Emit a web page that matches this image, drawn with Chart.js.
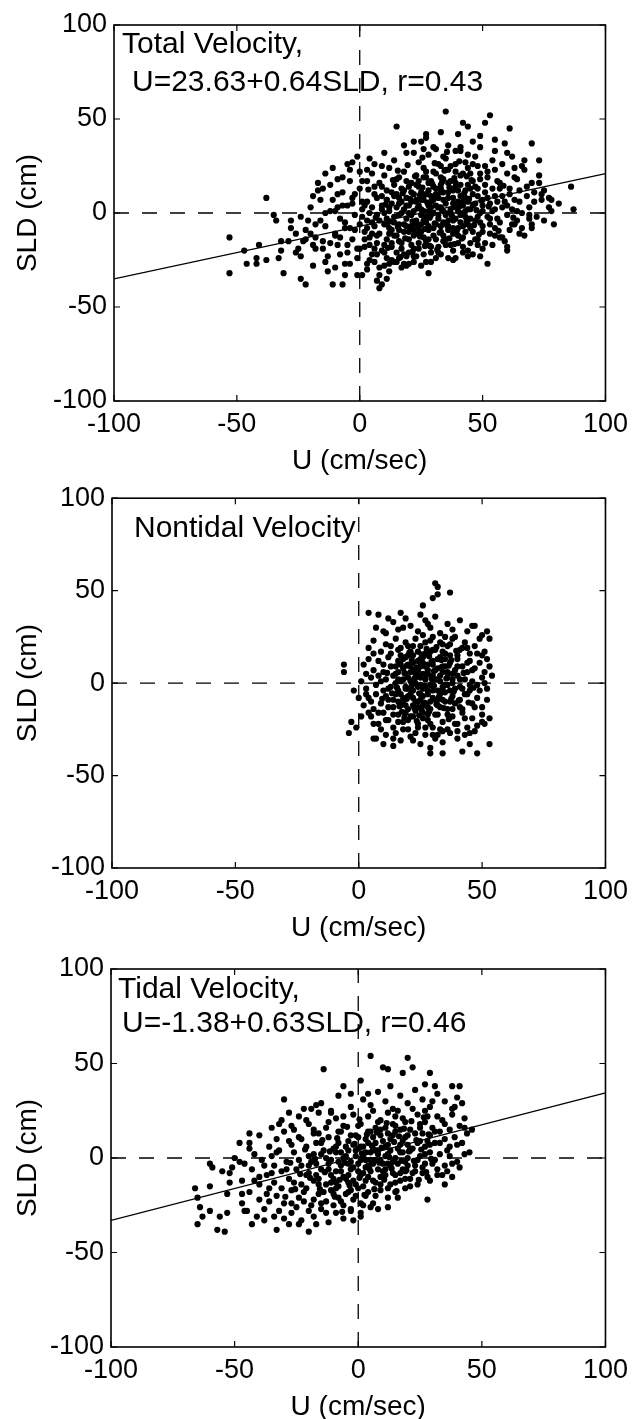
<!DOCTYPE html>
<html>
<head>
<meta charset="utf-8">
<script src="https://cdn.jsdelivr.net/npm/chart.js@4.4.1/dist/chart.umd.min.js"></script>
<style>
html, body { margin: 0; padding: 0; background: #fff; }
#wrap { position: relative; width: 635px; height: 1419px; }
canvas { position: absolute; left: 0; }
</style>
</head>
<body>
<div id="wrap">
  <canvas id="c1" width="635" height="475" style="top:0px"></canvas>
  <canvas id="c2" width="635" height="470" style="top:475px"></canvas>
  <canvas id="c3" width="635" height="474" style="top:945px"></canvas>
</div>
<script>
// axis setup
const axisTicks = [-100, -50, 0, 50, 100];
const xTitle = "U (cm/sec)";
const yTitle = "SLD (cm)";

// dashed zero lines
const zeroH = [[-100, 0], [100, 0]];
const zeroV = [[0, -100], [0, 100]];

// regression lines (U range and SLD at each end)
const fitU = [-100, 100];
const totalFitSLD = [-35, 21];
const tidalFitSLD = [-33, 34.5];

const totalLabel = ["Total Velocity,", "U=23.63+0.64SLD, r=0.43"];
const nontidalLabel = ["Nontidal Velocity"];
const tidalLabel = ["Tidal Velocity,", "U=-1.38+0.63SLD, r=0.46"];

// [U, SLD] pairs
const totalPts = [
  [-53,-13],[-53,-32],[-38,8],[-47,-20],[-46,-27],[-42,-27],[-42,-24],[-41,-17],[-38,-25],[-35,-1],
  [-34,-4],[-33,-24],[-32,-15],[-32,-20],[-31,-32],[-28,-4],[-28,-8],[-26,-11],[-25,-19],[-24,-23],
  [-24,-35],[-23,-15],[-22,-38],[-21,-4],[-20,-11],[-19,-28],[-19,-17],[-17,12],[-16,7],[-15,-15],
  [-15,-19],[-14,0],[-13,-31],[-11,24],[-11,-38],[-10,1],[-10,-11],[-9,10],[-8,-22],[-7,-38],
  [-7,19],[-6,-27],[-5,26],[-4,-8],[-3,5],[-1,30],[-1,-33],[1,-33],[1,-2],[3,17],
  [4,-17],[5,-11],[6,26],[7,-36],[8,-40],[9,-38],[10,32],[11,7],[13,-25],[15,46],
  [16,19],[18,-27],[20,-27],[22,32],[23,7],[25,38],[27,42],[27,-15],[28,-32],[30,35],
  [31,-24],[34,30],[35,54],[36,-24],[38,-25],[40,42],[41,35],[42,48],[44,46],[44,-23],
  [49,35],[49,-23],[51,48],[53,52],[52,-27],[55,39],[57,-13],[59,37],[60,32],[61,45],
  [60,-18],[63,19],[64,1],[65,-11],[67,28],[69,-1],[70,37],[70,-6],[73,28],[73,16],
  [74,7],[75,12],[77,3],[78,1],[78,7],[79,-6],[81,5],[86,14],[87,2],[60,-20],
  [22,38],[27,40],[31,34],[36,36],[41,33],[46,38],[49,41],[55,33],[18,36],[33,43],
  [-3,27],[4,29],[9,25],[14,28],[19,32],[24,27],[28,31],[32,26],[35,29],[39,33],
  [43,27],[47,30],[51,25],[54,28],[58,26],[62,30],[66,25],[44,31],[37,25],[26,34],
  [-14,21],[-9,18],[-4,23],[1,17],[5,21],[8,16],[12,24],[15,18],[18,22],[21,16],
  [23,20],[26,24],[29,17],[31,21],[34,18],[36,23],[39,16],[41,20],[44,24],[46,17],
  [49,21],[52,19],[55,23],[57,16],[60,21],[64,18],[67,23],[70,16],[73,20],[48,25],
  [33,15],[27,19],[10,20],[-17,16],
  [-19,9],[-15,13],[-11,7],[-7,11],[-3,8],[0,13],[3,6],[6,10],[9,14],[11,7],
  [13,11],[16,5],[17,13],[19,8],[21,11],[23,6],[24,14],[26,9],[28,12],[29,6],
  [31,10],[33,13],[34,7],[36,11],[38,5],[39,14],[41,9],[43,12],[44,6],[46,10],
  [48,13],[50,7],[51,11],[53,5],[55,9],[57,13],[59,6],[61,10],[63,7],[65,12],
  [68,9],[71,6],[74,10],[77,8],[20,14],[32,8],[42,6],[14,9],[37,13],[25,11],
  [-24,-2],[-20,3],[-16,-4],[-12,1],[-8,-3],[-5,4],[-2,-1],[1,2],[3,-4],[5,3],
  [7,-1],[9,4],[11,-3],[12,1],[14,-5],[15,3],[17,0],[19,-3],[20,4],[22,1],
  [23,-4],[25,2],[27,-2],[28,4],[30,0],[32,-3],[33,3],[35,-1],[37,2],[38,-4],
  [40,1],[42,4],[43,-2],[45,2],[47,-4],[49,0],[50,4],[52,-2],[54,1],[56,-3],
  [58,3],[60,-1],[62,2],[64,-4],[66,0],[69,3],[72,-2],[75,-4],[18,2],[26,-4],
  [34,1],[41,-1],[10,0],[29,3],
  [-22,-9],[-18,-13],[-14,-7],[-10,-12],[-6,-8],[-3,-14],[0,-6],[2,-10],[4,-13],[6,-7],
  [8,-11],[10,-6],[11,-14],[13,-9],[15,-12],[16,-6],[18,-10],[20,-14],[21,-7],[23,-11],
  [25,-6],[26,-13],[28,-9],[30,-12],[31,-6],[33,-10],[35,-14],[36,-7],[38,-11],[40,-8],
  [42,-13],[44,-6],[46,-10],[48,-14],[50,-7],[53,-11],[55,-8],[58,-13],[61,-9],[63,-6],
  [67,-12],[70,-8],[12,-11],[24,-8],[34,-12],[19,-7],
  [-18,-19],[-13,-23],[-9,-17],[-5,-21],[-1,-24],[2,-18],[5,-22],[7,-16],[9,-20],[11,-24],
  [13,-18],[15,-21],[17,-16],[19,-23],[22,-19],[24,-16],[26,-22],[29,-18],[32,-21],[35,-17],
  [38,-20],[42,-18],[45,-16],[50,-19],[54,-17],[10,-17],[20,-21],[4,-25],
  [-4,-27],[3,-30],[6,-26],[8,-33],[10,-28],[12,-31],[14,-26],[17,-29],[22,-26],[25,-28],
  [11,-35],
  [12,3],[14,-2],[16,8],[18,-6],[20,0],[21,6],[22,-9],[24,4],[25,-1],[26,7],
  [27,-5],[28,1],[29,9],[30,-8],[31,4],[32,-1],[33,11],[34,-5],[35,5],[36,-9],
  [37,0],[38,8],[39,-3],[40,12],[41,4],[42,-7],[43,1],[44,15],[45,-3],[36,16],
  [30,14],[24,17],[18,12],[14,15],[40,-12],[28,-14],[22,-12],[16,-9],[11,-6],[9,2],
  [7,8],[13,-16],[17,-19],[21,-17],[47,5],[49,-5],[51,15],[53,-6],[56,6],[27,22],
  [33,25],[39,22],[45,21],[15,-26],[6,-19],[3,-8],[1,6],[-2,10],[-6,-5],[-9,3],
  [2,-14],[4,0],[6,14],[8,-4],[9,9],[10,-21],[11,12],[12,-8],[13,5],[14,-12],
  [15,10],[16,-1],[16,-15],[17,6],[18,-22],[19,17],[19,4],[20,-10],[21,-1],[22,10],
  [22,-23],[23,15],[23,-6],[24,-19],[25,7],[25,-10],[26,1],[26,19],[27,-17],[27,10],
  [28,-7],[28,16],[29,-1],[29,-21],[30,7],[30,22],[31,-14],[31,13],[32,3],[32,-18],
  [33,-7],[33,19],[34,11],[34,-15],[35,0],[35,23],[36,-4],[36,8],[37,-17],[37,17],
  [38,12],[38,-8],[39,3],[39,26],[40,-16],[40,6],[41,-5],[41,15],[42,21],[42,0],
  [43,-10],[43,8],[44,-20],[44,2],[45,13],[45,-8],[46,4],[46,26],[47,-14],[47,14],
  [48,-2],[48,9],[49,18],[50,-10],[50,1],[51,-16],[52,8],[52,22],[53,-3],[54,13],
  [55,-12],[55,2],[56,17],[57,-5],[58,9],[59,-15],[60,4],[61,13],[62,-6],[63,24],
  [65,6],[66,-8],[68,14],[69,-3],[71,11],[-12,-16],[-8,-13],[-5,-17],[-2,-9],[0,-19],
  [2,4],[3,-27],[5,-5],[7,-22],[8,-29],[12,-27],[16,-24],[19,-28],[23,-23],[27,-26],
  [-14,-26],[-10,-29],[-6,-33],[-18,-6],[-22,-14],[-26,-21],[-29,-15],[-12,15],[-7,4],[-4,17],
  [3,23],[7,-12],[0,22],[-1,-19],[29,-26],[33,-22],[39,-24],[42,-21],[46,-22],[48,-17],
  [10.5,4.5],[12.5,-4.5],[13.5,17.5],[15.5,-7.5],[17.5,10.5],[18.5,-13.5],[20.5,7.5],[21.5,-4.5],[22.5,19.5],[23.5,2.5],
  [24.5,-12.5],[25.5,13.5],[26.5,-8.5],[27.5,5.5],[28.5,-2.5],[29.5,15.5],[30.5,-5.5],[31.5,8.5],[32.5,-10.5],[33.5,1.5],
  [34.5,22.5],[35.5,-6.5],[36.5,13.5],[37.5,-1.5],[38.5,18.5],[39.5,-9.5],[40.5,3.5],[41.5,-13.5],[42.5,10.5],[43.5,-4.5],
  [44.5,7.5],[45.5,17.5],[46.5,-6.5],[47.5,1.5],[48.5,-11.5],[49.5,6.5],[30.5,26.5],[25.5,29.5],[35.5,32.5],[40.5,27.5],
  [19.5,25.5],[15.5,22.5],[11.5,-18.5],[16.5,-23.5],[21.5,-20.5],[26.5,-17.5],[31.5,-19.5],[36.5,-13.5],[52.5,3.5],[56.5,-9.5],
  [58.5,14.5],[62.5,-2.5],[20.5,-8.5],[24.5,9.5],[28.5,-17.5],[33.5,16.5],[38.5,-16.5],[43.5,19.5],[6.5,-2.5],[3.5,12.5]
];

const nontidalPts = [
  [-6,10],[-6,6],[-4,-27],[-3,-21],[-1,-24],[-2,-4],[0,-8],[4,38],[8,37],[6,-30],
  [10,-33],[14,-34],[17,38],[26,42],[30,46],[31,54],[32,52],[32,48],[37,49],[29,-38],
  [34,-38],[42,-37],[45,-33],[48,-38],[53,-33],[53,-19],[54,4],[52,28],[53,24],[50,15],
  [46,31],[51,-22],
  [7,30],[11,27],[14,33],[16,29],[19,35],[21,31],[24,28],[27,34],[29,30],[31,36],
  [33,27],[36,32],[38,29],[41,34],[44,28],[47,31],[50,26],[12,35],[25,37],[35,25],
  [4,19],[6,23],[9,17],[11,21],[13,16],[15,24],[17,19],[19,22],[21,17],[23,24],
  [25,20],[27,16],[29,23],[31,18],[33,22],[35,16],[37,21],[39,25],[41,18],[43,22],
  [45,16],[47,20],[49,24],[51,17],[20,15],[30,25],[40,15],
  [2,10],[4,13],[6,7],[8,12],[10,6],[12,14],[13,9],[15,5],[16,12],[18,8],
  [19,14],[21,6],[22,11],[24,7],[25,13],[27,9],[28,5],[30,12],[31,7],[33,14],
  [34,9],[36,5],[37,11],[39,7],[40,13],[42,9],[44,6],[45,12],[47,8],[49,11],
  [51,6],[53,9],[17,10],[26,11],[35,13],[23,5],
  [1,1],[3,-3],[5,3],[7,-1],[8,4],[10,-4],[11,2],[13,-2],[14,4],[16,-4],
  [17,1],[19,-2],[20,3],[22,-4],[23,0],[24,4],[26,-3],[27,2],[29,-1],[30,4],
  [32,-4],[33,1],[34,-2],[36,3],[37,-4],[38,0],[40,4],[41,-2],[43,2],[45,-4],
  [46,1],[48,-1],[50,3],[52,-3],[15,0],[25,-1],[31,2],[21,1],[35,-1],[28,-4],
  [2,-12],[4,-8],[6,-14],[7,-6],[9,-11],[11,-7],[12,-13],[14,-9],[15,-6],[17,-12],
  [18,-8],[20,-14],[21,-6],[23,-10],[24,-13],[26,-7],[27,-11],[29,-14],[30,-8],[32,-12],
  [33,-6],[35,-10],[36,-14],[38,-7],[39,-11],[41,-9],[42,-14],[44,-6],[46,-11],[48,-8],
  [50,-13],[52,-9],[16,-10],[25,-9],[34,-9],[22,-12],
  [5,-18],[8,-22],[10,-16],[12,-20],[14,-24],[16,-17],[18,-21],[20,-25],[22,-18],[24,-22],
  [26,-16],[28,-20],[30,-24],[32,-17],[34,-21],[36,-25],[38,-18],[40,-22],[42,-16],[44,-24],
  [46,-19],[48,-23],[50,-17],[19,-16],[27,-24],
  [7,-30],[11,-28],[15,-27],[17,-31],[21,-29],[25,-33],[27,-28],[29,-35],[31,-30],[34,-32],
  [37,-27],[40,-30],[43,-28],[47,-26],[23,-27],
  [18,2],[20,-7],[22,7],[24,-2],[26,5],[28,-6],[30,1],[32,8],[34,-4],[36,6],
  [28,10],[24,12],[20,10],[32,-9],[26,-12],[18,-10],[30,18],[22,20],[34,17],[16,6],
  [38,2],[25,3],[29,-10],[33,4],[19,-3],
  [3,5],[5,-10],[6,16],[8,-16],[9,1],[10,10],[11,-20],[12,-3],[13,20],[14,-13],
  [15,9],[16,-21],[16,2],[17,15],[17,-6],[18,-25],[18,13],[19,-12],[19,5],[20,20],
  [20,-3],[21,-18],[21,9],[22,-8],[22,15],[23,-15],[23,3],[24,-24],[24,17],[25,-6],
  [25,9],[26,-19],[26,14],[27,-2],[27,22],[28,-13],[28,7],[29,-22],[29,17],[30,-4],
  [30,10],[31,-17],[31,-9],[32,13],[32,2],[33,-25],[33,-13],[34,6],[34,21],[35,-5],
  [35,9],[36,-17],[36,-1],[37,15],[37,-10],[38,24],[38,5],[39,-22],[39,-3],[40,9],
  [41,-13],[41,2],[42,19],[43,-6],[43,-19],[44,11],[45,-1],[45,-27],[46,7],[47,-13],
  [48,16],[49,-4],[50,-21],[51,0],[52,13],[10,28],[14,-30],[18,30],[22,-31],[26,26],
  [28,32],[32,-28],[36,20],[40,-26],[44,19],[9,-25],[6,-22],[4,-16],[3,-6],[1,-18],
  [12,-9],[14,-17],[16,18],[24,-10],[28,-17],[30,-28],[34,-26],[38,-14],[42,-3],[20,-20],
  [15.5,-2.5],[16.5,11.5],[17.5,-15.5],[18.5,5.5],[19.5,-8.5],[20.5,16.5],[21.5,-1.5],[22.5,-13.5],[23.5,8.5],[24.5,-5.5],
  [25.5,15.5],[26.5,-10.5],[27.5,4.5],[28.5,-15.5],[29.5,11.5],[30.5,-1.5],[31.5,19.5],[32.5,-7.5],[33.5,8.5],[34.5,-13.5],
  [35.5,2.5],[36.5,-19.5],[37.5,12.5],[38.5,-4.5],[39.5,17.5],[40.5,-9.5],[18.5,-18.5],[22.5,2.5],[26.5,-1.5],[30.5,6.5],
  [34.5,-1.5],[23.5,-20.5],[27.5,18.5],[31.5,-11.5],[19.5,9.5],[25.5,-14.5],[29.5,2.5],[33.5,12.5],[37.5,-8.5],[21.5,12.5],
  [13.5,-5.5],[11.5,5.5],[9.5,-8.5],[42.5,5.5],[44.5,-10.5],[46.5,-2.5],[16.5,-12.5],[28.5,14.5],[36.5,9.5],[24.5,-17.5]
];

const tidalPts = [
  [-66,-16],[-65,-35],[-65,-21],[-64,-26],[-63,-31],[-60,-28],[-60,-15],[-60,-3],[-59,-5],[-57,-38],
  [-56,-31],[-55,-7],[-54,-39],[-53,-19],[-53,-29],[-52,-13],[-51,-5],[-48,8],[-47,-24],[-46,-28],
  [-44,5],[-43,-35],[-44,13],[-40,-10],[-38,-33],[-33,-38],[-32,18],[-30,31],[-24,-35],[-20,-39],
  [-19,26],[-17,28],[-14,47],[-11,24],[-6,38],[-3,34],[1,41],[1,-31],[4,34],[5,54],
  [10,48],[12,47],[18,45],[20,53],[22,48],[29,45],[28,-22],[27,39],[31,38],[38,38],
  [41,38],[42,29],[46,15],[45,3],[38,-10],[35,-14],
  [-22,26],[-15,29],[-8,33],[-3,27],[2,31],[5,28],[8,35],[11,30],[14,26],[17,33],
  [20,29],[23,36],[26,31],[29,27],[32,34],[35,30],[38,26],[40,32],[13,38],[27,25],
  [-11,25],[6,25],
  [-35,16],[-31,20],[-27,17],[-24,22],[-20,18],[-16,24],[-13,16],[-9,21],[-6,17],[-2,23],
  [1,18],[4,22],[7,16],[9,20],[12,24],[15,17],[18,21],[21,15],[24,23],[27,19],
  [30,16],[32,22],[35,18],[38,23],[41,17],[43,21],[-28,24],[16,25],[25,16],[-18,15],
  [-44,8],[-40,12],[-36,6],[-33,10],[-30,14],[-27,7],[-24,11],[-21,6],[-18,13],[-15,8],
  [-12,11],[-9,6],[-7,14],[-4,9],[-1,12],[1,6],[3,10],[5,14],[7,8],[9,12],
  [11,6],[13,10],[15,14],[17,7],[19,11],[21,5],[23,13],[25,9],[27,6],[29,12],
  [31,8],[33,14],[35,10],[37,6],[39,11],[42,8],[44,13],[6,5],[18,9],[-2,7],
  [12,13],[28,9],
  [-50,0],[-46,-3],[-42,2],[-38,-4],[-35,1],[-32,4],[-29,-2],[-26,3],[-23,-4],[-20,1],
  [-17,-3],[-14,4],[-11,-1],[-9,3],[-7,-4],[-5,1],[-3,-2],[-1,4],[0,-3],[2,1],
  [4,-4],[5,3],[7,-1],[8,4],[10,-3],[12,2],[13,-4],[15,0],[17,3],[19,-2],
  [21,4],[23,-4],[25,1],[27,-3],[29,3],[31,-1],[33,2],[35,-4],[37,1],[40,-2],
  [43,2],[-13,0],[-4,4],[3,-1],[11,1],[-8,-2],[-18,2],[20,0],
  [-52,-8],[-47,-12],[-43,-6],[-40,-14],[-37,-9],[-34,-13],[-31,-7],[-28,-11],[-25,-6],[-23,-14],
  [-20,-8],[-18,-12],[-15,-6],[-13,-14],[-11,-9],[-9,-13],[-7,-7],[-5,-11],[-3,-6],[-1,-14],
  [1,-9],[3,-12],[5,-7],[7,-13],[9,-10],[11,-6],[13,-14],[15,-9],[17,-12],[19,-7],
  [21,-11],[24,-14],[26,-8],[29,-12],[32,-9],[36,-7],[-17,-9],[-10,-11],[-4,-9],[4,-10],
  [-44,-18],[-40,-22],[-36,-16],[-33,-20],[-30,-24],[-27,-17],[-24,-21],[-21,-16],[-19,-25],[-16,-19],
  [-13,-23],[-11,-17],[-8,-21],[-6,-25],[-4,-18],[-2,-22],[0,-16],[3,-20],[6,-24],[9,-17],
  [12,-21],[15,-18],[19,-16],[-22,-23],[-9,-16],[-15,-24],[2,-25],
  [-38,-27],[-34,-31],[-27,-29],[-23,-33],[-20,-28],[-18,-31],[-15,-27],[-12,-34],[-9,-29],[-6,-32],
  [-3,-27],[1,-29],[5,-26],[-17,-35],
  [-6,0],[-2,-5],[0,5],[2,-8],[4,8],[6,-3],[8,2],[10,-7],[12,7],[14,-2],
  [16,5],[18,-6],[-8,8],[-12,-6],[-4,-13],[0,11],[9,15],[14,18],[20,7],[-16,-14],
  [-10,-19],[-3,-17],[22,-8],[-20,-4],[-7,3],[1,-1],
  [-42,-12],[-39,-1],[-37,-19],[-35,-8],[-33,3],[-31,-16],[-29,-6],[-28,9],[-26,-13],[-25,-26],
  [-24,-1],[-23,10],[-22,-18],[-21,-9],[-19,-2],[-18,-22],[-17,8],[-16,-11],[-15,2],[-14,-18],
  [-13,-29],[-12,-3],[-12,19],[-11,-13],[-10,5],[-10,-25],[-9,-7],[-8,14],[-8,-15],[-7,-23],
  [-6,-10],[-5,6],[-5,-19],[-4,-3],[-3,-28],[-3,12],[-2,-12],[-1,1],[-1,-20],[0,-7],
  [0,17],[1,-24],[2,6],[2,-15],[3,3],[3,-5],[4,14],[4,-18],[5,-1],[6,11],[6,-12],
  [7,-20],[7,4],[8,-6],[8,19],[9,-1],[9,-14],[10,9],[11,-9],[11,16],[12,-3],
  [12,-16],[13,4],[14,12],[14,-8],[15,-13],[15,22],[16,-3],[17,15],[17,-8],[18,3],
  [19,19],[19,-11],[20,-4],[20,12],[21,-15],[22,5],[22,26],[23,-7],[24,8],[24,-1],
  [25,18],[26,-5],[26,13],[27,2],[28,22],[28,-10],[29,7],[30,-3],[30,30],[31,14],
  [32,-6],[33,8],[34,20],[34,-9],[36,4],[37,15],[38,-3],[39,27],[40,7],[41,-5],[43,16],
  [-47,-19],[-45,-28],[-41,-31],[-36,-23],[-32,-28],[-28,-35],[-26,15],[-21,20],[-16,13],[-6,22],
  [-2,-33],[8,-27],[12,-26],[16,-21],[-30,-32],[-34,-4],[-48,-2],[-27,-24],
  [-19.5,-10.5],[-17.5,-0.5],[-15.5,-16.5],[-13.5,-7.5],[-11.5,3.5],[-9.5,-20.5],[-7.5,-11.5],[-5.5,-2.5],[-3.5,-14.5],[-1.5,7.5],
  [0.5,-10.5],[1.5,2.5],[2.5,-19.5],[3.5,12.5],[4.5,-5.5],[5.5,6.5],[6.5,-16.5],[7.5,13.5],[8.5,-2.5],[9.5,5.5],
  [10.5,-11.5],[11.5,18.5],[12.5,0.5],[13.5,-5.5],[14.5,8.5],[15.5,-17.5],[16.5,11.5],[17.5,-1.5],[18.5,15.5],[19.5,-6.5],
  [20.5,3.5],[21.5,19.5],[22.5,-1.5],[23.5,9.5],[24.5,-11.5],[25.5,4.5],[26.5,21.5],[27.5,-7.5],[28.5,12.5],[29.5,-0.5],
  [-25.5,-16.5],[-23.5,-8.5],[-21.5,4.5],[-27.5,-2.5],[-29.5,-20.5],[-8.5,10.5],[-4.5,16.5],[0.5,20.5],[-14.5,9.5],[-6.5,-28.5]
];

const FONT = "'Liberation Sans', Arial, Helvetica, sans-serif";
const toXY = arr => arr.map(p => ({ x: p[0], y: p[1] }));

// frame, inward tick marks and panel caption
const panelDecor = {
  id: 'panelDecor',
  afterDatasetsDraw(chart, args, opts) {
    const { ctx, chartArea: a, scales: { x, y } } = chart;
    ctx.save();
    ctx.strokeStyle = '#000';
    ctx.lineWidth = 1.6;
    ctx.strokeRect(a.left, a.top, a.right - a.left, a.bottom - a.top);
    ctx.lineWidth = 1.2;
    ctx.beginPath();
    axisTicks.forEach(v => {
      const px = x.getPixelForValue(v), py = y.getPixelForValue(v);
      ctx.moveTo(px, a.bottom); ctx.lineTo(px, a.bottom - 6);
      ctx.moveTo(px, a.top); ctx.lineTo(px, a.top + 6);
      ctx.moveTo(a.left, py); ctx.lineTo(a.left + 6, py);
      ctx.moveTo(a.right, py); ctx.lineTo(a.right - 6, py);
    });
    ctx.stroke();
    ctx.fillStyle = '#000';
    ctx.font = '30px ' + FONT;
    ctx.textBaseline = 'middle';
    opts.lines.forEach((t, i) => ctx.fillText(t, a.left + opts.dx[i], a.top + opts.dy[i]));
    ctx.restore();
  }
};

function makePanel(id, pts, fitSLD, caption, g) {
  const datasets = [
    { data: toXY(pts), pointRadius: 3.1, pointBackgroundColor: '#000', pointBorderWidth: 0, showLine: false },
    { data: toXY(zeroH), showLine: true, pointRadius: 0, borderColor: '#000', borderWidth: 1.3, borderDash: [15, 13] },
    { data: toXY(zeroV), showLine: true, pointRadius: 0, borderColor: '#000', borderWidth: 1.3, borderDash: [15, 13] }
  ];
  if (fitSLD) {
    datasets.push({ data: toXY(fitU.map((u, i) => [u, fitSLD[i]])), showLine: true, pointRadius: 0, borderColor: '#000', borderWidth: 1.3 });
  }
  new Chart(id, {
    type: 'scatter',
    data: { datasets },
    options: {
      responsive: false,
      animation: false,
      layout: { padding: { top: g.top, right: g.right, left: 0, bottom: 0 } },
      plugins: {
        legend: { display: false },
        tooltip: { enabled: false },
        panelDecor: caption
      },
      scales: {
        x: {
          type: 'linear', min: -100, max: 100,
          afterFit: s => { s.height = g.xh; },
          grid: { display: false, drawTicks: false },
          border: { display: false },
          ticks: { stepSize: 50, maxRotation: 0, autoSkip: false, padding: 7, color: '#000', font: { size: 27, family: FONT } },
          title: { display: true, text: xTitle, color: '#000', font: { size: 28, family: FONT, lineHeight: 0.8 }, padding: { top: 0, bottom: g.tb } }
        },
        y: {
          type: 'linear', min: -100, max: 100,
          afterFit: s => { s.width = g.yw; },
          grid: { display: false, drawTicks: false },
          border: { display: false },
          ticks: { stepSize: 50, padding: 7, color: '#000', font: { size: 27, family: FONT } },
          title: { display: true, text: yTitle, color: '#000', font: { size: 28, family: FONT, lineHeight: 0.8 }, padding: { top: 17, bottom: 0 } }
        }
      }
    },
    plugins: [panelDecor]
  });
}

makePanel('c1', totalPts, totalFitSLD,
  { lines: totalLabel, dx: [8, 18], dy: [20, 58] },
  { top: 25, right: 26, yw: 114, xh: 74, tb: 3 });
makePanel('c2', nontidalPts, null,
  { lines: nontidalLabel, dx: [22], dy: [31] },
  { top: 19, right: 27, yw: 112, xh: 77, tb: 6 });
makePanel('c3', tidalPts, tidalFitSLD,
  { lines: tidalLabel, dx: [7, 11], dy: [21, 55] },
  { top: 24, right: 28, yw: 111, xh: 72, tb: 1 });
</script>
</body>
</html>
